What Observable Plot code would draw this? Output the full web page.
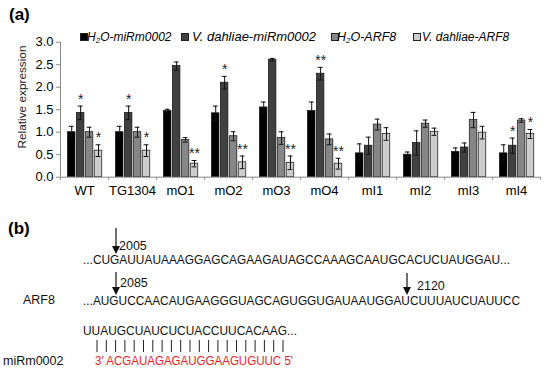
<!DOCTYPE html>
<html><head><meta charset="utf-8">
<script src="https://cdn.jsdelivr.net/npm/d3@7"></script>
<script src="https://cdn.jsdelivr.net/npm/@observablehq/plot@0.6"></script>
<style>
body{margin:0;background:#fff;font-family:"Liberation Sans",Arial,sans-serif;}
#wrap{position:relative;width:550px;height:369px;overflow:hidden;}
#chart{position:absolute;left:0;top:0;}
#legend{position:absolute;top:30px;left:0;width:550px;height:16px;font-style:italic;white-space:nowrap;color:#000;}
#legend .sw{position:absolute;top:3px;width:6px;height:6px;border:1px solid #222;}
#legend .lt{position:absolute;top:0;line-height:14px;}
#legend sub{font-size:8px;vertical-align:-2px;line-height:0;}
#seq{position:absolute;left:0;top:0;}
</style></head><body>
<div id="wrap"><div id="chart"></div><div id="legend"></div><svg id="seq" width="550" height="369"></svg></div>
<script>
// ---- data ----
const groups = ["WT","TG1304","mO1","mO2","mO3","mO4","mI1","mI2","mI3","mI4"];
const seriesNames = ["H2O-miRm0002","V. dahliae-miRm0002","H2O-ARF8","V. dahliae-ARF8"];
const legendLabels = ["H<sub>2</sub>O-miRm0002","V. dahliae-miRm0002","H<sub>2</sub>O-ARF8","V. dahliae-ARF8"];
const h2oMir    = [1.00,1.00,1.47,1.42,1.55,1.47,0.53,0.50,0.56,0.53];
const h2oMirErr = [0.13,0.13,0.04,0.16,0.12,0.20,0.21,0.06,0.09,0.19];
const vdMir     = [1.43,1.43,2.47,2.10,2.61,2.30,0.70,0.76,0.66,0.70];
const vdMirErr  = [0.15,0.15,0.09,0.14,0.03,0.14,0.19,0.27,0.10,0.17];
const h2oArf    = [1.00,1.00,0.83,0.91,0.87,0.84,1.17,1.19,1.27,1.26];
const h2oArfErr = [0.11,0.11,0.05,0.10,0.14,0.12,0.12,0.08,0.17,0.04];
const vdArf     = [0.59,0.59,0.30,0.33,0.32,0.30,0.96,1.01,0.99,0.96];
const vdArfErr  = [0.13,0.13,0.07,0.14,0.15,0.12,0.14,0.08,0.14,0.10];
const h2oMirSig = ["","","","","","","","","",""];
const vdMirSig  = ["*","*","","*","","**","","","","*"];
const h2oArfSig = ["","","","","","","","","",""];
const vdArfSig  = ["*","*","**","**","**","**","","","","*"];
const yTicks = [0,0.5,1,1.5,2,2.5,3];
const yLabel = "Relative  expression";

const seqLine1 = "...CUGAUUAUAAAGGAGCAGAAGAUAGCCAAAGCAAUGCACUCUAUGGAU...";
const seqLine2 = "...AUGUCCAACAUGAAGGGUAGCAGUGGUGAUAAUGGAUCUUUAUCUAUUCC";
const seqLine3 = "UUAUGCUAUCUCUACCUUCACAAG...";
const mirSeq = "3' ACGAUAGAGAUGGAAGUGUUC 5'";
const pairCount = 21;
const sites = ["2005","2085","2120"];
const geneName = "ARF8";
const mirName = "miRm0002";

// ---- build table ----
const seriesColors = ["#000000","#404040","#878787","#cdcdcd"];
const values = [h2oMir, vdMir, h2oArf, vdArf];
const errs = [h2oMirErr, vdMirErr, h2oArfErr, vdArfErr];
const sigs = [h2oMirSig, vdMirSig, h2oArfSig, vdArfSig];
const off0 = 0.155, step = 0.186, bw = 0.157;
const rows = [];
groups.forEach((g, gi) => {
  seriesNames.forEach((s, si) => {
    const x1 = gi + off0 + step * si;
    rows.push({group: g, series: s, gi, si, x1, x2: x1 + bw, xc: x1 + bw / 2,
      value: values[si][gi], err: errs[si][gi], sig: sigs[si][gi]});
  });
});

const chart = Plot.plot({
  width: 550, height: 210,
  marginLeft: 60, marginRight: 10, marginTop: 41.7, marginBottom: 33.3,
  style: {fontFamily: '"Liberation Sans", Arial, sans-serif', background: "transparent"},
  x: {type: "linear", domain: [0, groups.length]},
  y: {domain: [0, 3]},
  color: {domain: seriesNames, range: seriesColors},
  marks: [
    Plot.ruleX([0], {y1: 0, y2: 3, stroke: "#8a8a8a"}),
    Plot.axisY({ticks: yTicks, tickSize: 4, tickPadding: 3, fontSize: 13, stroke: "#8a8a8a", label: null}),
    Plot.axisX(groups.map((g, i) => i + 0.5), {tickSize: 0, tickPadding: 9, fontSize: 13, tickFormat: d => groups[Math.floor(d)], label: null}),
    Plot.axisX(d3.range(groups.length + 1), {tickSize: 3, tickFormat: () => "", stroke: "#8a8a8a", label: null}),
    Plot.rectY(rows, {x1: "x1", x2: "x2", y1: 0, y2: "value", fill: "series", stroke: "#111", strokeWidth: 0.7}),
    Plot.ruleY([0], {stroke: "#8a8a8a"}),
    Plot.ruleX(rows, {x: "xc", y1: d => d.value - d.err, y2: d => d.value + d.err, stroke: "#111", strokeWidth: 1}),
    Plot.ruleY(rows, {y: d => d.value + d.err, x1: d => d.xc - 0.05, x2: d => d.xc + 0.05, stroke: "#111", strokeWidth: 1}),
    Plot.ruleY(rows, {y: d => d.value - d.err, x1: d => d.xc - 0.05, x2: d => d.xc + 0.05, stroke: "#111", strokeWidth: 1}),
    Plot.text(rows.filter(d => d.sig), {x: "xc", y: d => d.value + d.err, text: "sig", dy: -7, lineAnchor: "middle", fontSize: 14, fill: "#222"})
  ]
});
document.getElementById("chart").appendChild(chart);

// ---- legend ----
const legend = document.getElementById("legend");
const swX = [80, 181, 331, 413];
const txX = [87, 192, 337, 422];
const lgSize = [12, 13, 12.5, 12];
seriesNames.forEach((s, i) => {
  const sw = document.createElement("span");
  sw.className = "sw"; sw.style.left = swX[i] + "px"; sw.style.background = seriesColors[i];
  legend.appendChild(sw);
  const t = document.createElement("span");
  t.className = "lt"; t.style.left = txX[i] + "px"; t.style.fontSize = lgSize[i] + "px"; t.innerHTML = legendLabels[i];
  legend.appendChild(t);
});

// ---- panel labels, y label and sequence panel ----
const svg = d3.select("#seq").style("font-family", '"Liberation Sans", Arial, sans-serif');
svg.append("text").attr("x", 9).attr("y", 20).attr("font-size", 17).attr("font-weight", "bold").text("(a)");
svg.append("text").attr("transform", "translate(26,97) rotate(-90)").attr("text-anchor", "middle")
  .attr("font-size", 11.8).attr("fill", "#222").text(yLabel);
svg.append("text").attr("x", 8).attr("y", 234).attr("font-size", 17).attr("font-weight", "bold").text("(b)");

function seq(x, y, str, len, fill) {
  svg.append("text").attr("x", x).attr("y", y).attr("font-size", 12.2)
    .attr("fill", fill || "#111").attr("textLength", len).attr("lengthAdjust", "spacingAndGlyphs").text(str);
}
function arrow(x, y0, y1) {
  svg.append("line").attr("x1", x).attr("x2", x).attr("y1", y0).attr("y2", y1 - 6).attr("stroke", "#111").attr("stroke-width", 1.2);
  svg.append("path").attr("d", `M${x - 4},${y1 - 8}L${x + 4},${y1 - 8}L${x},${y1}Z`).attr("fill", "#111");
}
seq(83, 264, seqLine1, 427);
arrow(116, 228, 254);
svg.append("text").attr("x", 119).attr("y", 250).attr("font-size", 12.5).attr("fill", "#111").text(sites[0]);

svg.append("text").attr("x", 23).attr("y", 304).attr("font-size", 12.5).attr("fill", "#111").text(geneName);
seq(83, 305, seqLine2, 437);
arrow(116, 272, 295);
svg.append("text").attr("x", 120).attr("y", 287).attr("font-size", 12.5).attr("fill", "#111").text(sites[1]);
arrow(407, 273, 295);
svg.append("text").attr("x", 417).attr("y", 290).attr("font-size", 12.5).attr("fill", "#111").text(sites[2]);

seq(83, 335, seqLine3, 214);
const pairX = d3.scaleLinear().domain([0, pairCount - 1]).range([97, 283]);
svg.append("g").selectAll("line").data(d3.range(pairCount)).join("line")
  .attr("x1", d => pairX(d)).attr("x2", d => pairX(d)).attr("y1", 340).attr("y2", 352)
  .attr("stroke", "#222").attr("stroke-width", 1);
svg.append("text").attr("x", 3).attr("y", 365).attr("font-size", 12.5).attr("fill", "#111").text(mirName);
seq(95, 365, mirSeq, 198, "#ee1c25");
</script>
</body></html>
